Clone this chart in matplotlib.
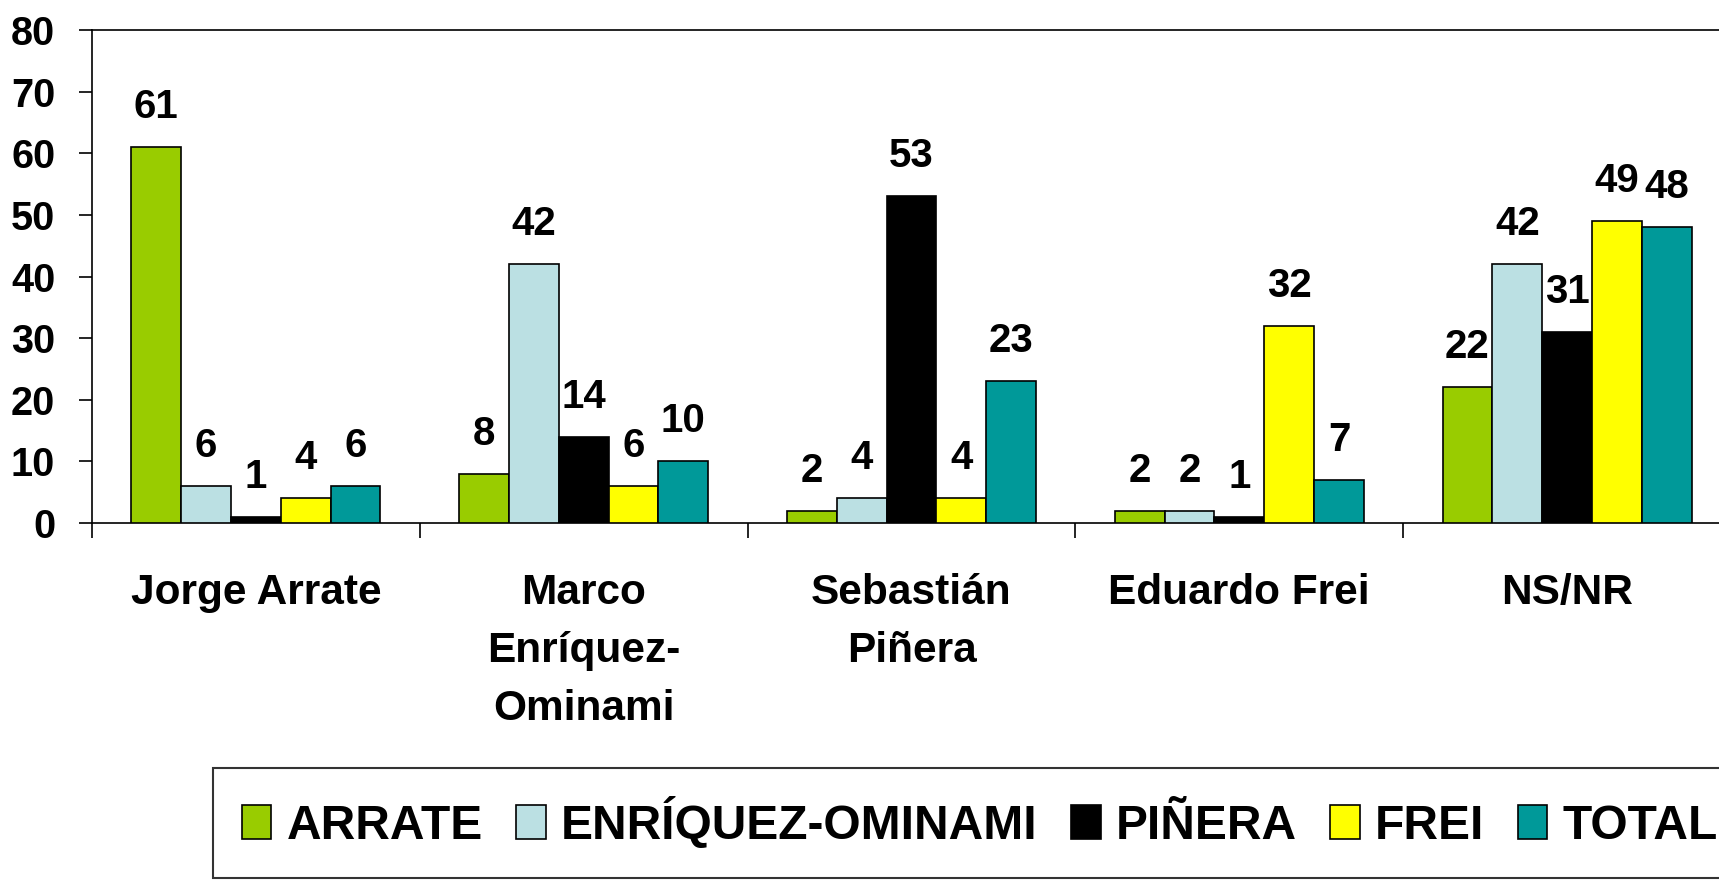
import numpy as np
import matplotlib
matplotlib.use("Agg")
import matplotlib.pyplot as plt
from matplotlib.ticker import FixedLocator

# ── Data ──────────────────────────────────────────────────────────────────────
categories = ["Jorge Arrate", "Marco\nEnríquez-\nOminami", "Sebastián\nPiñera",
              "Eduardo Frei", "NS/NR"]
series_names = ["ARRATE", "ENRÍQUEZ-OMINAMI", "PIÑERA", "FREI", "TOTAL"]
arrate   = [61, 8, 2, 2, 22]
enriquez = [6, 42, 4, 2, 42]
pinera   = [1, 14, 53, 1, 31]
frei     = [4, 6, 4, 32, 49]
total    = [6, 10, 23, 7, 48]
y_ticks  = [0, 10, 20, 30, 40, 50, 60, 70, 80]

colors = ["#99CC00", "#BBE0E3", "#000000", "#FFFF00", "#009999"]

plt.rcParams["font.family"] = ["Liberation Sans", "DejaVu Sans"]
plt.rcParams["font.weight"] = "bold"

# ── Figure ────────────────────────────────────────────────────────────────────
fig = plt.figure(figsize=(17.19, 8.81), dpi=100)
fig.patch.set_facecolor("white")
W, H = 1719, 881
# plot area runs slightly past the right edge, as in the reference
ax = fig.add_axes([92 / W, (H - 523) / H, (1731 - 92) / W, (523 - 30) / H])

x = np.arange(len(categories))
bw = 0.152
all_series = [arrate, enriquez, pinera, frei, total]
for i, (vals, name, c) in enumerate(zip(all_series, series_names, colors)):
    bars = ax.bar(x + (i - 2) * bw, vals, bw, color=c, edgecolor="black",
                  linewidth=1.2, label=name, zorder=3)
    for b, v in zip(bars, vals):
        ax.annotate(f"{v}", (b.get_x() + b.get_width() / 2, v),
                    xytext=(0, 21), textcoords="offset points",
                    ha="center", va="baseline", fontsize=29, fontweight="bold")

ax.set_xlim(-0.5, 4.5)
ax.set_ylim(0, 80)
ax.set_yticks(y_ticks)
ax.tick_params(axis="y", direction="out", length=9.5, width=1.2, pad=17,
               labelsize=28.5)

# category labels at centres, separator ticks between categories
ax.set_xticks(x)
ax.set_xticklabels(categories, fontsize=30.5, fontweight="bold", linespacing=1.58)
ax.tick_params(axis="x", which="major", length=0, pad=36)
ax.xaxis.set_minor_locator(FixedLocator(np.arange(-0.5, 5.0, 1.0)))
ax.tick_params(axis="x", which="minor", direction="out", length=11, width=1.2)

for s in ax.spines.values():
    s.set_linewidth(1.2)

# ── Legend ────────────────────────────────────────────────────────────────────
leg = fig.legend(loc="upper left", bbox_to_anchor=(213 / W, 1 - 768 / H),
                 ncol=5, frameon=True, fancybox=False,
                 borderaxespad=0, borderpad=0.6, handlelength=0.62,
                 handleheight=0.70, handletextpad=0.31, columnspacing=0.7,
                 prop={"weight": "bold", "size": 34.5})
leg.get_frame().set_edgecolor("black")
leg.get_frame().set_linewidth(1.5)

fig.savefig("out.png", dpi=100, facecolor=fig.get_facecolor())
